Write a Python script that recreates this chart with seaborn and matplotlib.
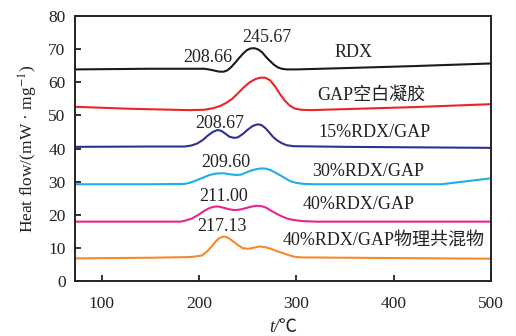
import matplotlib
matplotlib.use("Agg")
import matplotlib.pyplot as plt
import seaborn as sns
import pandas as pd

# ---- data ----
rdx_t = [73, 150, 205, 210, 215, 220, 225, 229, 233, 237, 241, 245, 249, 253, 257, 261, 265, 269,
         273, 277, 281, 285, 290, 300, 350, 420, 500]
rdx_q = [63.9, 64.1, 64.1, 63.9, 63.6, 63.25, 63.2, 63.6, 64.6, 65.9, 67.3, 68.6, 69.7, 70.25, 70.3,
         69.9, 69.0, 67.6, 66.4, 65.3, 64.5, 64.1, 63.9, 63.9, 64.3, 64.9, 65.7]

gap_t = [73, 130, 190, 205, 215, 222, 228, 234, 240, 246, 252, 258, 263, 268, 273, 278, 283, 288,
         293, 298, 305, 315, 350, 420, 500]
gap_q = [52.6, 52.0, 51.6, 51.7, 52.2, 52.9, 53.8, 55.0, 56.7, 58.5, 60.0, 61.0, 61.4, 61.4, 60.6,
         58.8, 56.5, 54.5, 53.0, 52.1, 51.7, 51.6, 51.9, 52.5, 53.4]

r15_t = [73, 150, 185, 192, 198, 204, 209, 214, 219, 223, 227, 231, 236, 240, 245, 250, 255, 260,
         264, 268, 272, 276, 280, 285, 290, 297, 350, 500]
r15_q = [40.5, 40.6, 40.6, 40.9, 41.5, 42.6, 43.9, 45.0, 45.6, 45.3, 44.5, 43.6, 43.2, 43.4, 44.4,
         45.7, 46.8, 47.3, 47.1, 46.2, 44.9, 43.5, 42.5, 41.6, 41.0, 40.7, 40.5, 40.2]

r30_t = [73, 150, 185, 190, 195, 200, 205, 210, 215, 220, 226, 232, 238, 243, 248, 253, 258, 264,
         269, 274, 279, 284, 289, 294, 300, 308, 320, 449, 500]
r30_q = [29.2, 29.2, 29.3, 29.6, 30.1, 30.7, 31.3, 31.9, 32.3, 32.5, 32.5, 32.2, 32.0, 32.1, 32.7,
         33.3, 33.7, 34.0, 33.9, 33.4, 32.6, 31.8, 30.9, 30.1, 29.6, 29.3, 29.2, 29.2, 31.0]

r40_t = [73, 150, 181, 187, 193, 199, 205, 210, 215, 219, 224, 230, 236, 241, 247, 253, 259, 264,
         269, 274, 279, 285, 291, 297, 305, 320, 500]
r40_q = [17.9, 17.9, 17.9, 18.3, 18.9, 19.9, 21.1, 21.9, 22.4, 22.5, 22.2, 21.7, 21.4, 21.5, 21.9,
         22.4, 22.7, 22.6, 22.1, 21.2, 20.4, 19.5, 18.8, 18.4, 18.1, 17.9, 17.9]

mix_t = [73, 150, 190, 197, 203, 208, 213, 217, 221, 225, 229, 233, 237, 241, 245, 250, 256, 262,
         268, 274, 280, 286, 292, 298, 305, 400, 500]
mix_q = [6.8, 7.0, 7.2, 7.4, 7.7, 8.8, 10.4, 11.9, 13.0, 13.4, 13.2, 12.4, 11.5, 10.6, 9.9, 9.7,
         10.0, 10.4, 10.2, 9.7, 9.0, 8.4, 7.8, 7.3, 7.1, 6.9, 6.7]

series_names = ["RDX", "GAP空白凝胶", "15%RDX/GAP", "30%RDX/GAP", "40%RDX/GAP", "40%RDX/GAP物理共混物"]
series_t = [rdx_t, gap_t, r15_t, r30_t, r40_t, mix_t]
series_q = [rdx_q, gap_q, r15_q, r30_q, r40_q, mix_q]
colors = ["#1a1a1a", "#ee2424", "#2e3192", "#1eaee8", "#e8258c", "#f58a2a"]

# series label positions (data coords)
label_xy = [(359, 68.9), (377, 56.2), (380, 44.7), (374, 33.0), (364, 23.0), (390, 11.9)]
# peak temperature annotations
ann_text = ["208.66", "245.67", "208.67", "209.60", "211.00", "217.13"]
ann_xy = [(209.5, 67.6), (270, 73.6), (221, 47.6), (228, 35.9), (225, 25.6), (224, 16.4)]

x_ticks = [100, 200, 300, 400, 500]
y_ticks = [0, 10, 20, 30, 40, 50, 60, 70, 80]

# ---- style ----
sns.set_theme(style="white")
fam = ["Liberation Serif", "Noto Sans CJK SC", "DejaVu Sans"]
plt.rcParams["font.family"] = fam
plt.rcParams["mathtext.fontset"] = "stix"
plt.rcParams["axes.unicode_minus"] = False

fig = plt.figure(figsize=(5.16, 3.36), dpi=100)
ax = fig.add_axes([0.146, 0.164, 0.806, 0.788])

for name, t, q, c in zip(series_names, series_t, series_q, colors):
    df = pd.DataFrame({"t": t, "q": q})
    sns.lineplot(data=df, x="t", y="q", ax=ax, color=c, lw=1.5, sort=False, estimator=None)

for name, (x, y) in zip(series_names, label_xy):
    ax.text(x, y, name, ha="center", va="center", fontsize=13, color="#222222", family=fam)

for s, (x, y) in zip(ann_text, ann_xy):
    ax.text(x, y, s, ha="center", va="center", fontsize=13, color="#222222", family=fam)

ax.set_xlim(73, 500)
ax.set_ylim(0, 80)
ax.set_xticks(x_ticks)
ax.set_yticks(y_ticks)
ax.tick_params(axis="both", direction="in", length=4.5, width=1.3, labelsize=12.5,
               colors="#222222", top=False, right=False, left=True, bottom=True)
ax.tick_params(axis="x", pad=11)
ax.tick_params(axis="y", pad=7)
for sp in ax.spines.values():
    sp.set_color("#222222")
    sp.set_linewidth(1.4)

ax.set_xlabel("t/℃", fontsize=13, color="#222222", labelpad=5, fontstyle="italic", family=fam)
ax.set_ylabel(r"Heat flow/(mW · mg$^{-1}$)", fontsize=12.5, color="#222222", labelpad=6)

fig.savefig("out.png", dpi=100)
